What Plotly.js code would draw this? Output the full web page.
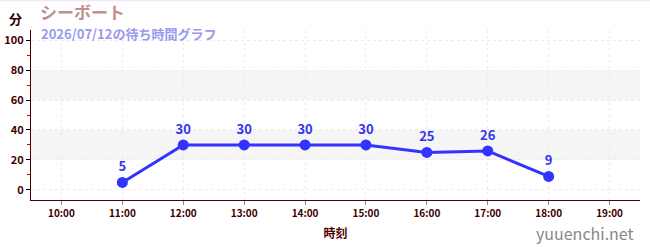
<!DOCTYPE html>
<html><head><meta charset="utf-8">
<script src="https://cdn.plot.ly/plotly-3.0.1.min.js"></script>
<style>html,body{margin:0;padding:0;background:#fff;}#c{width:650px;height:250px;}</style>
</head><body><div id="c"></div>
<script>
const times = ["2026-07-12 11:00","2026-07-12 12:00","2026-07-12 13:00","2026-07-12 14:00","2026-07-12 15:00","2026-07-12 16:00","2026-07-12 17:00","2026-07-12 18:00"];
const waits = [5,30,30,30,30,25,26,9];
const bands = [[20,40],[60,80]];
const xRange = ["2026-07-12 09:30","2026-07-12 19:30"];
const yRange = [-6.7,106.7];
const titleText = "シーボート";
const subtitleText = "2026/07/12の待ち時間グラフ";

const font = "'Noto Sans CJK JP', 'Noto Sans', sans-serif";
const shapes = bands.map(b => ({type:"rect", xref:"paper", yref:"y", x0:0, x1:1, y0:b[0], y1:b[1], fillcolor:"#f5f5f5", line:{width:0}, layer:"below"}));
shapes.push({type:"line", xref:"paper", yref:"paper", x0:-0.06, x1:1.02, y0:1.172, y1:1.172, line:{color:"#e6e6f6", width:1}});

const trace = {
  x: times, y: waits, mode:"lines+markers+text", type:"scatter",
  text: waits.map(String), textposition:"top center",
  textfont:{family:font, size:13, color:"#3333ee", weight:"bold"},
  line:{color:"#3333ff", width:3}, marker:{color:"#3333ff", size:11},
  cliponaxis:false, hoverinfo:"skip"
};
const layout = {
  width:650, height:250,
  margin:{l:31, r:10, t:30, b:50},
  paper_bgcolor:"#fff", plot_bgcolor:"#fff",
  showlegend:false,
  font:{family:font, color:"#400000"},
  xaxis:{type:"date", range:xRange, dtick:3600000, tickformat:"%H:%M",
    tickfont:{size:10, color:"#400000", family:font, weight:"bold"}, ticks:"outside", ticklen:4, tickcolor:"#888",
    showgrid:true, gridcolor:"#ececec", griddash:"3px,3px", zeroline:false,
    showline:true, linecolor:"#500000", linewidth:1,
    title:{text:"時刻", font:{size:12, color:"#500000", family:font, weight:"bold"}, standoff:10}},
  yaxis:{range:yRange, dtick:20, tick0:0,
    tickfont:{size:11, color:"#400000", family:font, weight:"bold"}, ticks:"outside", ticklen:4, tickcolor:"#000",
    minor:{dtick:10, ticks:"outside", ticklen:3, tickcolor:"#dd0000", showgrid:false},
    showgrid:true, gridcolor:"#ececec", griddash:"3px,3px", zeroline:false,
    showline:true, linecolor:"#500000", linewidth:1},
  shapes: shapes,
  annotations:[
    {text:"分", xref:"paper", yref:"paper", x:-0.012, y:1.068, xanchor:"right", yanchor:"middle", showarrow:false, font:{size:13, color:"#300000", family:font, weight:"bold"}},
    {text:titleText, xref:"paper", yref:"paper", x:0.012, y:1.11, xanchor:"left", yanchor:"middle", showarrow:false, font:{size:17, color:"#c09090", family:font, weight:"bold"}},
    {text:subtitleText, xref:"paper", yref:"paper", x:0.013, y:0.98, xanchor:"left", yanchor:"middle", showarrow:false, font:{size:13, color:"#9999ee", family:font, weight:"bold"}},
    {text:"yuuenchi.net", xref:"paper", yref:"paper", x:0.993, y:-0.195, xanchor:"right", yanchor:"middle", showarrow:false, font:{size:16, color:"#888", family:font}}
  ]
};
Plotly.newPlot("c",[trace],layout,{displayModeBar:false, staticPlot:true});
</script></body></html>
